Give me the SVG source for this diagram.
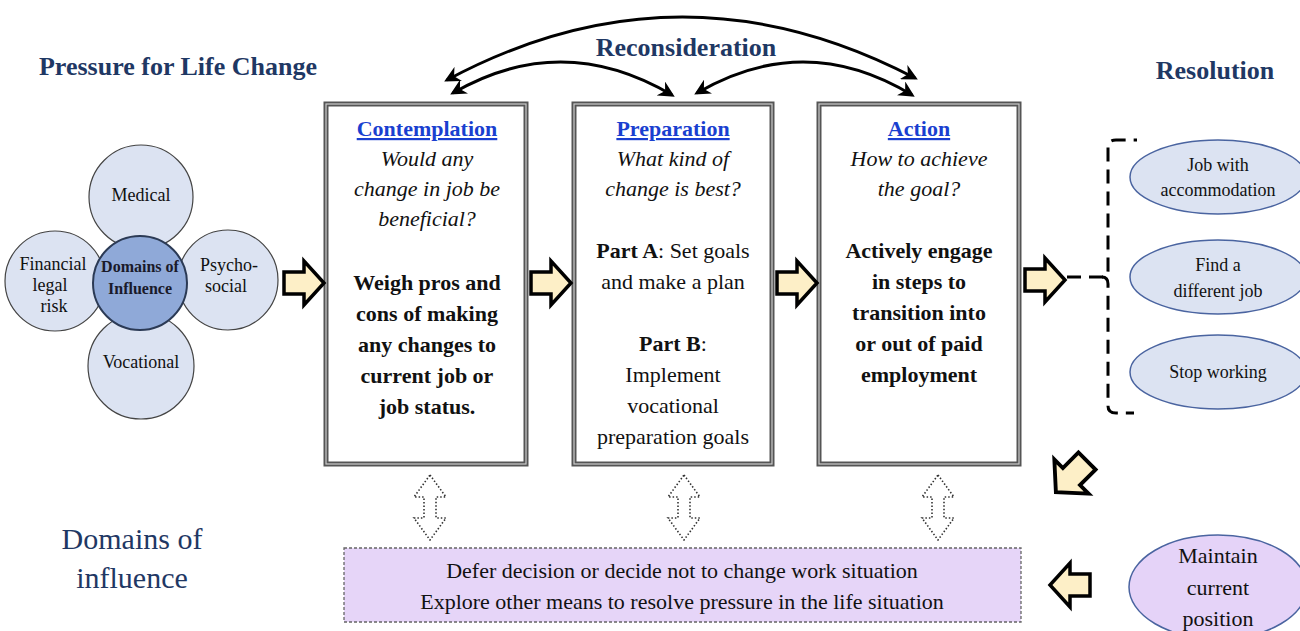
<svg xmlns="http://www.w3.org/2000/svg" width="1300" height="631" viewBox="0 0 1300 631">
<defs>
<marker id="ah" viewBox="0 0 10 10" refX="8" refY="5" markerWidth="16" markerHeight="16" markerUnits="userSpaceOnUse" orient="auto-start-reverse">
<path d="M0,0 L10,5 L0,10 L3,5 Z" fill="#000"/>
</marker>
<path id="ba" d="M0,-11 H20 V-22 L40,0 L20,22 V11 H0 Z" fill="#fdefc7" stroke="#000" stroke-width="3.5"/>
<path id="da" d="M0,0 L16,22 H6 V43 H16 L0,65 L-16,43 H-6 V22 H-16 Z" fill="#fff" stroke="#333" stroke-width="1.6" stroke-dasharray="1.5 2"/>
</defs>

<text style="font-family:'Times New Roman',serif" font-size="26" font-weight="bold" fill="#1f3864" x="178" y="75" text-anchor="middle">Pressure for Life Change</text>
<text style="font-family:'Times New Roman',serif" font-size="26" font-weight="bold" fill="#1f3864" x="686" y="56" text-anchor="middle">Reconsideration</text>
<text style="font-family:'Times New Roman',serif" font-size="26" font-weight="bold" fill="#1f3864" x="1215" y="79" text-anchor="middle">Resolution</text>

<g id="domains">
<circle cx="141" cy="197" r="52" fill="#dce3f2" stroke="#444" stroke-width="1.2"/>
<circle cx="141" cy="366" r="53" fill="#dce3f2" stroke="#444" stroke-width="1.2"/>
<circle cx="55" cy="281" r="50" fill="#dce3f2" stroke="#444" stroke-width="1.2"/>
<circle cx="228" cy="280" r="50" fill="#dce3f2" stroke="#444" stroke-width="1.2"/>
<circle cx="140" cy="283" r="47" fill="#8fa9d8" stroke="#2b3a55" stroke-width="2"/>
<text style="font-family:'Times New Roman',serif" font-size="18" fill="#111" x="141" y="201" text-anchor="middle">Medical</text>
<text style="font-family:'Times New Roman',serif" font-size="18" fill="#111" x="141" y="368" text-anchor="middle">Vocational</text>
<text style="font-family:'Times New Roman',serif" font-size="18" fill="#111" x="53" y="270" text-anchor="middle">Financial</text>
<text style="font-family:'Times New Roman',serif" font-size="18" fill="#111" x="50" y="291" text-anchor="middle">legal</text>
<text style="font-family:'Times New Roman',serif" font-size="18" fill="#111" x="54" y="312" text-anchor="middle">risk</text>
<text style="font-family:'Times New Roman',serif" font-size="18" fill="#111" x="229" y="271" text-anchor="middle">Psycho-</text>
<text style="font-family:'Times New Roman',serif" font-size="18" fill="#111" x="226" y="292" text-anchor="middle">social</text>
<text style="font-family:'Times New Roman',serif" font-size="16" font-weight="bold" fill="#1a1a2a" x="140" y="272" text-anchor="middle">Domains of</text>
<text style="font-family:'Times New Roman',serif" font-size="16" font-weight="bold" fill="#1a1a2a" x="140" y="294" text-anchor="middle">Influence</text>
</g>

<g id="contemplation">
<rect x="326" y="104" width="200" height="360" fill="#fff" stroke="#555" stroke-width="5"/>
<rect x="326" y="104" width="200" height="360" fill="none" stroke="#ccc" stroke-width="1.2"/>
<text style="font-family:'Times New Roman',serif" font-size="22" font-weight="bold" fill="#1a3fd0" text-decoration="underline" x="427" y="136" text-anchor="middle">Contemplation</text>
<text style="font-family:'Times New Roman',serif" font-size="22" font-style="italic" fill="#111" x="427" y="166" text-anchor="middle">Would any</text>
<text style="font-family:'Times New Roman',serif" font-size="22" font-style="italic" fill="#111" x="427" y="196" text-anchor="middle">change in job be</text>
<text style="font-family:'Times New Roman',serif" font-size="22" font-style="italic" fill="#111" x="427" y="226" text-anchor="middle">beneficial?</text>
<text style="font-family:'Times New Roman',serif" font-size="22" font-weight="bold" fill="#111" x="427" y="290" text-anchor="middle">Weigh pros and</text>
<text style="font-family:'Times New Roman',serif" font-size="22" font-weight="bold" fill="#111" x="427" y="321" text-anchor="middle">cons of making</text>
<text style="font-family:'Times New Roman',serif" font-size="22" font-weight="bold" fill="#111" x="427" y="352" text-anchor="middle">any changes to</text>
<text style="font-family:'Times New Roman',serif" font-size="22" font-weight="bold" fill="#111" x="427" y="383" text-anchor="middle">current job or</text>
<text style="font-family:'Times New Roman',serif" font-size="22" font-weight="bold" fill="#111" x="427" y="414" text-anchor="middle">job status.</text>
</g>

<g id="preparation">
<rect x="574" y="104" width="198" height="360" fill="#fff" stroke="#555" stroke-width="5"/>
<rect x="574" y="104" width="198" height="360" fill="none" stroke="#ccc" stroke-width="1.2"/>
<text style="font-family:'Times New Roman',serif" font-size="22" font-weight="bold" fill="#1a3fd0" text-decoration="underline" x="673" y="136" text-anchor="middle">Preparation</text>
<text style="font-family:'Times New Roman',serif" font-size="22" font-style="italic" fill="#111" x="673" y="166" text-anchor="middle">What kind of</text>
<text style="font-family:'Times New Roman',serif" font-size="22" font-style="italic" fill="#111" x="673" y="196" text-anchor="middle">change is best?</text>
<text style="font-family:'Times New Roman',serif" font-size="22" fill="#111" x="673" y="258" text-anchor="middle"><tspan font-weight="bold">Part A</tspan>: Set goals</text>
<text style="font-family:'Times New Roman',serif" font-size="22" fill="#111" x="673" y="289" text-anchor="middle">and make a plan</text>
<text style="font-family:'Times New Roman',serif" font-size="22" fill="#111" x="673" y="351" text-anchor="middle"><tspan font-weight="bold">Part B</tspan>:</text>
<text style="font-family:'Times New Roman',serif" font-size="22" fill="#111" x="673" y="382" text-anchor="middle">Implement</text>
<text style="font-family:'Times New Roman',serif" font-size="22" fill="#111" x="673" y="413" text-anchor="middle">vocational</text>
<text style="font-family:'Times New Roman',serif" font-size="22" fill="#111" x="673" y="444" text-anchor="middle">preparation goals</text>
</g>

<g id="action">
<rect x="819" y="104" width="200" height="360" fill="#fff" stroke="#555" stroke-width="5"/>
<rect x="819" y="104" width="200" height="360" fill="none" stroke="#ccc" stroke-width="1.2"/>
<text style="font-family:'Times New Roman',serif" font-size="22" font-weight="bold" fill="#1a3fd0" text-decoration="underline" x="919" y="136" text-anchor="middle">Action</text>
<text style="font-family:'Times New Roman',serif" font-size="22" font-style="italic" fill="#111" x="919" y="166" text-anchor="middle">How to achieve</text>
<text style="font-family:'Times New Roman',serif" font-size="22" font-style="italic" fill="#111" x="919" y="196" text-anchor="middle">the goal?</text>
<text style="font-family:'Times New Roman',serif" font-size="22" font-weight="bold" fill="#111" x="919" y="258" text-anchor="middle">Actively engage</text>
<text style="font-family:'Times New Roman',serif" font-size="22" font-weight="bold" fill="#111" x="919" y="289" text-anchor="middle">in steps to</text>
<text style="font-family:'Times New Roman',serif" font-size="22" font-weight="bold" fill="#111" x="919" y="320" text-anchor="middle">transition into</text>
<text style="font-family:'Times New Roman',serif" font-size="22" font-weight="bold" fill="#111" x="919" y="351" text-anchor="middle">or out of paid</text>
<text style="font-family:'Times New Roman',serif" font-size="22" font-weight="bold" fill="#111" x="919" y="382" text-anchor="middle">employment</text>
</g>

<g id="resolution-options">
<ellipse cx="1218" cy="177" rx="88" ry="37" fill="#dce3f2" stroke="#4a64a0" stroke-width="1.5"/>
<text style="font-family:'Times New Roman',serif" font-size="18" fill="#111" x="1218" y="171" text-anchor="middle">Job with</text>
<text style="font-family:'Times New Roman',serif" font-size="18" fill="#111" x="1218" y="196" text-anchor="middle">accommodation</text>
<ellipse cx="1218" cy="277" rx="88" ry="37" fill="#dce3f2" stroke="#4a64a0" stroke-width="1.5"/>
<text style="font-family:'Times New Roman',serif" font-size="18" fill="#111" x="1218" y="271" text-anchor="middle">Find a</text>
<text style="font-family:'Times New Roman',serif" font-size="18" fill="#111" x="1218" y="297" text-anchor="middle">different job</text>
<ellipse cx="1218" cy="372" rx="88" ry="37" fill="#dce3f2" stroke="#4a64a0" stroke-width="1.5"/>
<text style="font-family:'Times New Roman',serif" font-size="18" fill="#111" x="1218" y="378" text-anchor="middle">Stop working</text>
</g>

<g id="maintain">
<ellipse cx="1218" cy="587" rx="89" ry="52" fill="#e5d3f8" stroke="#4a64a0" stroke-width="1.5"/>
<text style="font-family:'Times New Roman',serif" font-size="22" fill="#111" x="1218" y="563" text-anchor="middle">Maintain</text>
<text style="font-family:'Times New Roman',serif" font-size="22" fill="#111" x="1218" y="595" text-anchor="middle">current</text>
<text style="font-family:'Times New Roman',serif" font-size="22" fill="#111" x="1218" y="626" text-anchor="middle">position</text>
</g>

<g id="defer">
<rect x="344" y="548" width="677" height="74" fill="#e6d5f8" stroke="#666" stroke-width="1.3" stroke-dasharray="3 2"/>
<text style="font-family:'Times New Roman',serif" font-size="22" fill="#111" x="682" y="578" text-anchor="middle">Defer decision or decide not to change work situation</text>
<text style="font-family:'Times New Roman',serif" font-size="22" fill="#111" x="682" y="609" text-anchor="middle">Explore other means to resolve pressure in the life situation</text>
</g>

<text style="font-family:'Times New Roman',serif" font-size="30" fill="#1f3864" x="132" y="549" text-anchor="middle">Domains of</text>
<text style="font-family:'Times New Roman',serif" font-size="30" fill="#1f3864" x="132" y="588" text-anchor="middle">influence</text>

<g id="connectors">
<path d="M447,80 Q680,-45 915,78" fill="none" stroke="#000" stroke-width="3" marker-start="url(#ah)" marker-end="url(#ah)"/>
<path d="M453,93 Q562,30 672,95" fill="none" stroke="#000" stroke-width="3" marker-start="url(#ah)" marker-end="url(#ah)"/>
<path d="M697,93 Q805,30 912,95" fill="none" stroke="#000" stroke-width="3" marker-start="url(#ah)" marker-end="url(#ah)"/>
<use href="#ba" x="284" y="283"/>
<use href="#ba" x="531" y="283"/>
<use href="#ba" x="777" y="283"/>
<use href="#ba" x="1025" y="280"/>
<use href="#ba" transform="translate(1087,461) rotate(135) scale(1.1)"/>
<use href="#ba" transform="translate(1090,585) rotate(180)"/>
<use href="#da" x="430" y="475"/>
<use href="#da" x="684" y="475"/>
<use href="#da" x="938" y="475"/>
<path d="M1067,277 H1102 Q1108,277 1108,271 V147 Q1108,140 1116,140 H1137" fill="none" stroke="#000" stroke-width="3" stroke-dasharray="14 8"/>
<path d="M1102,277 Q1108,277 1108,284 V406 Q1108,413 1116,413 H1134" fill="none" stroke="#000" stroke-width="3" stroke-dasharray="14 8"/>
</g>
</svg>
